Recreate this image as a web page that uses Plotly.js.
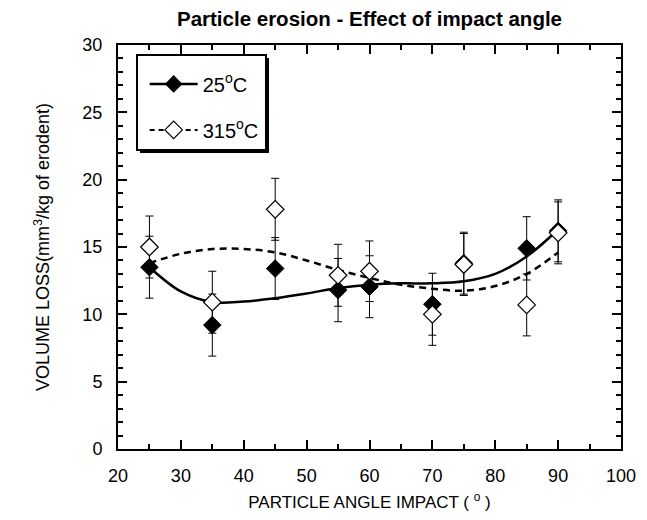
<!DOCTYPE html>
<html>
<head>
<meta charset="utf-8">
<script src="https://cdn.plot.ly/plotly-3.0.1.min.js"></script>
<style>html,body{margin:0;padding:0;background:#fff;}</style>
</head>
<body>
<div id="chart" style="width:647px;height:520px;"></div>
<script>
// Measured data (impact angle, degrees)
const angles = [25, 35, 45, 55, 60, 70, 75, 85, 90];
const loss25 = [13.5, 9.2, 13.4, 11.8, 12.05, 10.75, 13.8, 14.9, 16.2];
const err25 = [2.3, 2.3, 2.3, 2.35, 2.3, 2.3, 2.3, 2.35, 2.3];
const loss315 = [15.0, 10.9, 17.8, 12.9, 13.2, 10.0, 13.7, 10.7, 16.05];
const err315 = [2.3, 2.3, 2.3, 2.3, 2.25, 2.3, 2.3, 2.3, 2.3];

// Fitted curves
const fitX = [25, 30, 35, 40, 45, 50, 55, 60, 65, 70, 75, 80, 85, 90];
const fit25 = [13.5, 11.7, 10.9, 10.95, 11.2, 11.55, 11.95, 12.2, 12.3, 12.3, 12.45, 13.0, 14.3, 16.3];
const fit315 = [13.8, 14.5, 14.85, 14.85, 14.6, 14.0, 13.3, 12.7, 12.2, 11.9, 11.75, 12.1, 13.0, 14.6];

const names = ['25<sup>o</sup>C', '315<sup>o</sup>C'];

const FONT = 'Liberation Sans, Arial, Helvetica, sans-serif';

const traces = [
  {x: fitX, y: fit25, mode: 'lines', line: {color: 'black', width: 2.5, shape: 'spline', smoothing: 1}, showlegend: false, hoverinfo: 'skip'},
  {x: fitX, y: fit315, mode: 'lines', line: {color: 'black', width: 2.5, dash: '7px,5px', shape: 'spline', smoothing: 1}, showlegend: false, hoverinfo: 'skip'},
  {x: angles, y: loss25, mode: 'markers', showlegend: false,
   marker: {symbol: 'diamond', size: 13.5, color: 'black', line: {color: 'black', width: 1}},
   error_y: {type: 'data', array: err25, visible: true, color: 'black', thickness: 1, width: 4}},
  {x: angles, y: loss315, mode: 'markers', showlegend: false,
   marker: {symbol: 'diamond', size: 13.5, color: 'white', line: {color: 'black', width: 1.2}},
   error_y: {type: 'data', array: err315, visible: true, color: 'black', thickness: 1, width: 4}},
  // legend entries
  {x: [null], y: [null], mode: 'lines+markers', name: names[0], legendgroup: 'a',
   line: {color: 'black', width: 2.5}, marker: {symbol: 'diamond', size: 13.5, color: 'black'}},
  {x: [null], y: [null], mode: 'lines+markers', name: names[1], legendgroup: 'b',
   line: {color: 'black', width: 2, dash: '5px,4px'}, marker: {symbol: 'diamond', size: 13.5, color: 'white', line: {color: 'black', width: 1.2}}}
];

const axisCommon = {
  showline: true, linewidth: 2, linecolor: 'black', mirror: 'ticks',
  ticks: 'inside', ticklen: 9, tickwidth: 2, tickcolor: 'black',
  showgrid: false, zeroline: false,
  tickfont: {family: FONT, size: 18, color: 'black'}
};

const layout = {
  width: 647, height: 520,
  margin: {l: 118, r: 26, t: 45, b: 71},
  paper_bgcolor: 'white', plot_bgcolor: 'white',
  font: {family: FONT, color: 'black'},
  title: {text: '<b>Particle erosion - Effect of impact angle</b>', font: {family: FONT, size: 20.5, color: 'black'},
          xref: 'paper', x: 0.5, xanchor: 'center', yref: 'container', y: 0.963, yanchor: 'middle'},
  xaxis: Object.assign({}, axisCommon, {
    range: [20, 100], tick0: 0, dtick: 10, ticklabelstandoff: 9,
    minor: {dtick: 5, ticks: 'inside', ticklen: 5, tickwidth: 2, tickcolor: 'black', showgrid: false},
    title: {text: 'PARTICLE ANGLE IMPACT ( <sup>o</sup> )', font: {family: FONT, size: 17, color: 'black'}, standoff: 12}
  }),
  yaxis: Object.assign({}, axisCommon, {
    range: [0, 30], tick0: 0, dtick: 5, ticklabelstandoff: 10,
    minor: {dtick: 1, ticks: 'inside', ticklen: 5, tickwidth: 2, tickcolor: 'black', showgrid: false},
    title: {text: 'VOLUME LOSS(mm<sup>3</sup>/kg of erodent)', font: {family: FONT, size: 18, color: 'black'}, standoff: 28}
  }),
  showlegend: true,
  legend: {x: 0.053, xanchor: 'left', y: 0.952, yanchor: 'top', bgcolor: 'rgba(0,0,0,0)', borderwidth: 0,
           font: {family: FONT, size: 20, color: 'black'}, tracegroupgap: 17, itemwidth: 48, traceorder: 'grouped'},
  shapes: [
    {type: 'rect', xref: 'paper', yref: 'paper', x0: 0.0437, x1: 0.3002, y0: 0.7327, y1: 0.9678, fillcolor: 'black', line: {width: 0}, layer: 'above'},
    {type: 'rect', xref: 'paper', yref: 'paper', x0: 0.0378, x1: 0.2942, y0: 0.740, y1: 0.975, fillcolor: 'white', line: {color: 'black', width: 2}, layer: 'above'}
  ]
};

Plotly.newPlot('chart', traces, layout, {displayModeBar: false, staticPlot: true});
</script>
</body>
</html>
